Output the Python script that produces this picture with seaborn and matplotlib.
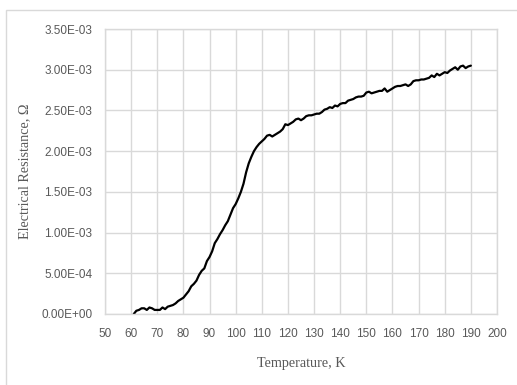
import matplotlib
matplotlib.use("Agg")
import matplotlib.pyplot as plt
import seaborn as sns
import pandas as pd
from matplotlib.ticker import FuncFormatter, MultipleLocator
from matplotlib.patches import Rectangle

# Temperature sweep (K) and measured resistance (Ohm)
temperature = list(range(61, 191))
resistance_milli = [
    0.00, 0.04, 0.05, 0.07, 0.07, 0.05, 0.08, 0.07, 0.05, 0.05,
    0.05, 0.08, 0.06, 0.09, 0.10, 0.11, 0.13, 0.16, 0.18, 0.20,
    0.24, 0.28, 0.34, 0.37, 0.41, 0.48, 0.53, 0.56, 0.65, 0.70,
    0.77, 0.87, 0.92, 0.98, 1.03, 1.09, 1.14, 1.22, 1.30, 1.35,
    1.42, 1.50, 1.60, 1.74, 1.85, 1.93, 2.00, 2.05, 2.09, 2.12,
    2.15, 2.19, 2.20, 2.18, 2.20, 2.22, 2.24, 2.27, 2.33, 2.32,
    2.34, 2.36, 2.39, 2.40, 2.38, 2.40, 2.43, 2.44, 2.44, 2.45,
    2.46, 2.46, 2.48, 2.51, 2.52, 2.54, 2.53, 2.56, 2.55, 2.58,
    2.59, 2.59, 2.62, 2.63, 2.64, 2.66, 2.67, 2.67, 2.68, 2.72,
    2.73, 2.71, 2.72, 2.73, 2.74, 2.74, 2.77, 2.73, 2.75, 2.77,
    2.79, 2.80, 2.80, 2.81, 2.82, 2.80, 2.82, 2.86, 2.87, 2.87,
    2.88, 2.88, 2.89, 2.90, 2.93, 2.91, 2.95, 2.93, 2.95, 2.97,
    2.96, 2.99, 3.01, 3.03, 3.00, 3.04, 3.05, 3.02, 3.04, 3.05,
]
resistance = [v * 1e-3 for v in resistance_milli]

x_ticks = list(range(50, 201, 10))
y_max = 3.5e-3
y_step = 5e-4

df = pd.DataFrame({"T": temperature, "R": resistance})

sns.set_theme(style="white")
grid_color = "#d9d9d9"
tick_color = "#595959"

fig = plt.figure(figsize=(5.17, 3.85), dpi=100)
fig.patch.set_facecolor("white")

# light outer chart border
fig.add_artist(Rectangle((6 / 517, -0.05), 1.2, 1 - 10 / 385 + 0.05,
                         transform=fig.transFigure, fill=False,
                         edgecolor=grid_color, linewidth=1.0))

ax = fig.add_axes([105 / 517, 1 - 314 / 385, (497 - 105) / 517, (314 - 29) / 385])

sns.lineplot(data=df, x="T", y="R", ax=ax, color="black", linewidth=1.6)

ax.set_xlim(50, 200)
ax.set_ylim(0, y_max)
ax.set_xticks(x_ticks)
ax.yaxis.set_major_locator(MultipleLocator(y_step))
ax.yaxis.set_major_formatter(FuncFormatter(lambda v, p: f"{v:.2E}"))

ax.grid(True, color=grid_color, linewidth=1.0)
ax.set_axisbelow(True)
for s in ax.spines.values():
    s.set_color(grid_color)
    s.set_linewidth(1.0)

ax.tick_params(axis="both", length=0, colors=tick_color, labelsize=8.5)
ax.tick_params(axis="y", pad=9)
ax.tick_params(axis="x", pad=10)
for lbl in ax.get_xticklabels() + ax.get_yticklabels():
    lbl.set_family("Liberation Sans")

ax.set_xlabel("Temperature, K", family="Liberation Serif", fontsize=10.2,
              color=tick_color, labelpad=12)
ax.set_ylabel("Electrical Resistance, Ω", family="Liberation Serif", fontsize=10.2,
              color=tick_color, labelpad=7)

fig.savefig("out.png", dpi=100)
